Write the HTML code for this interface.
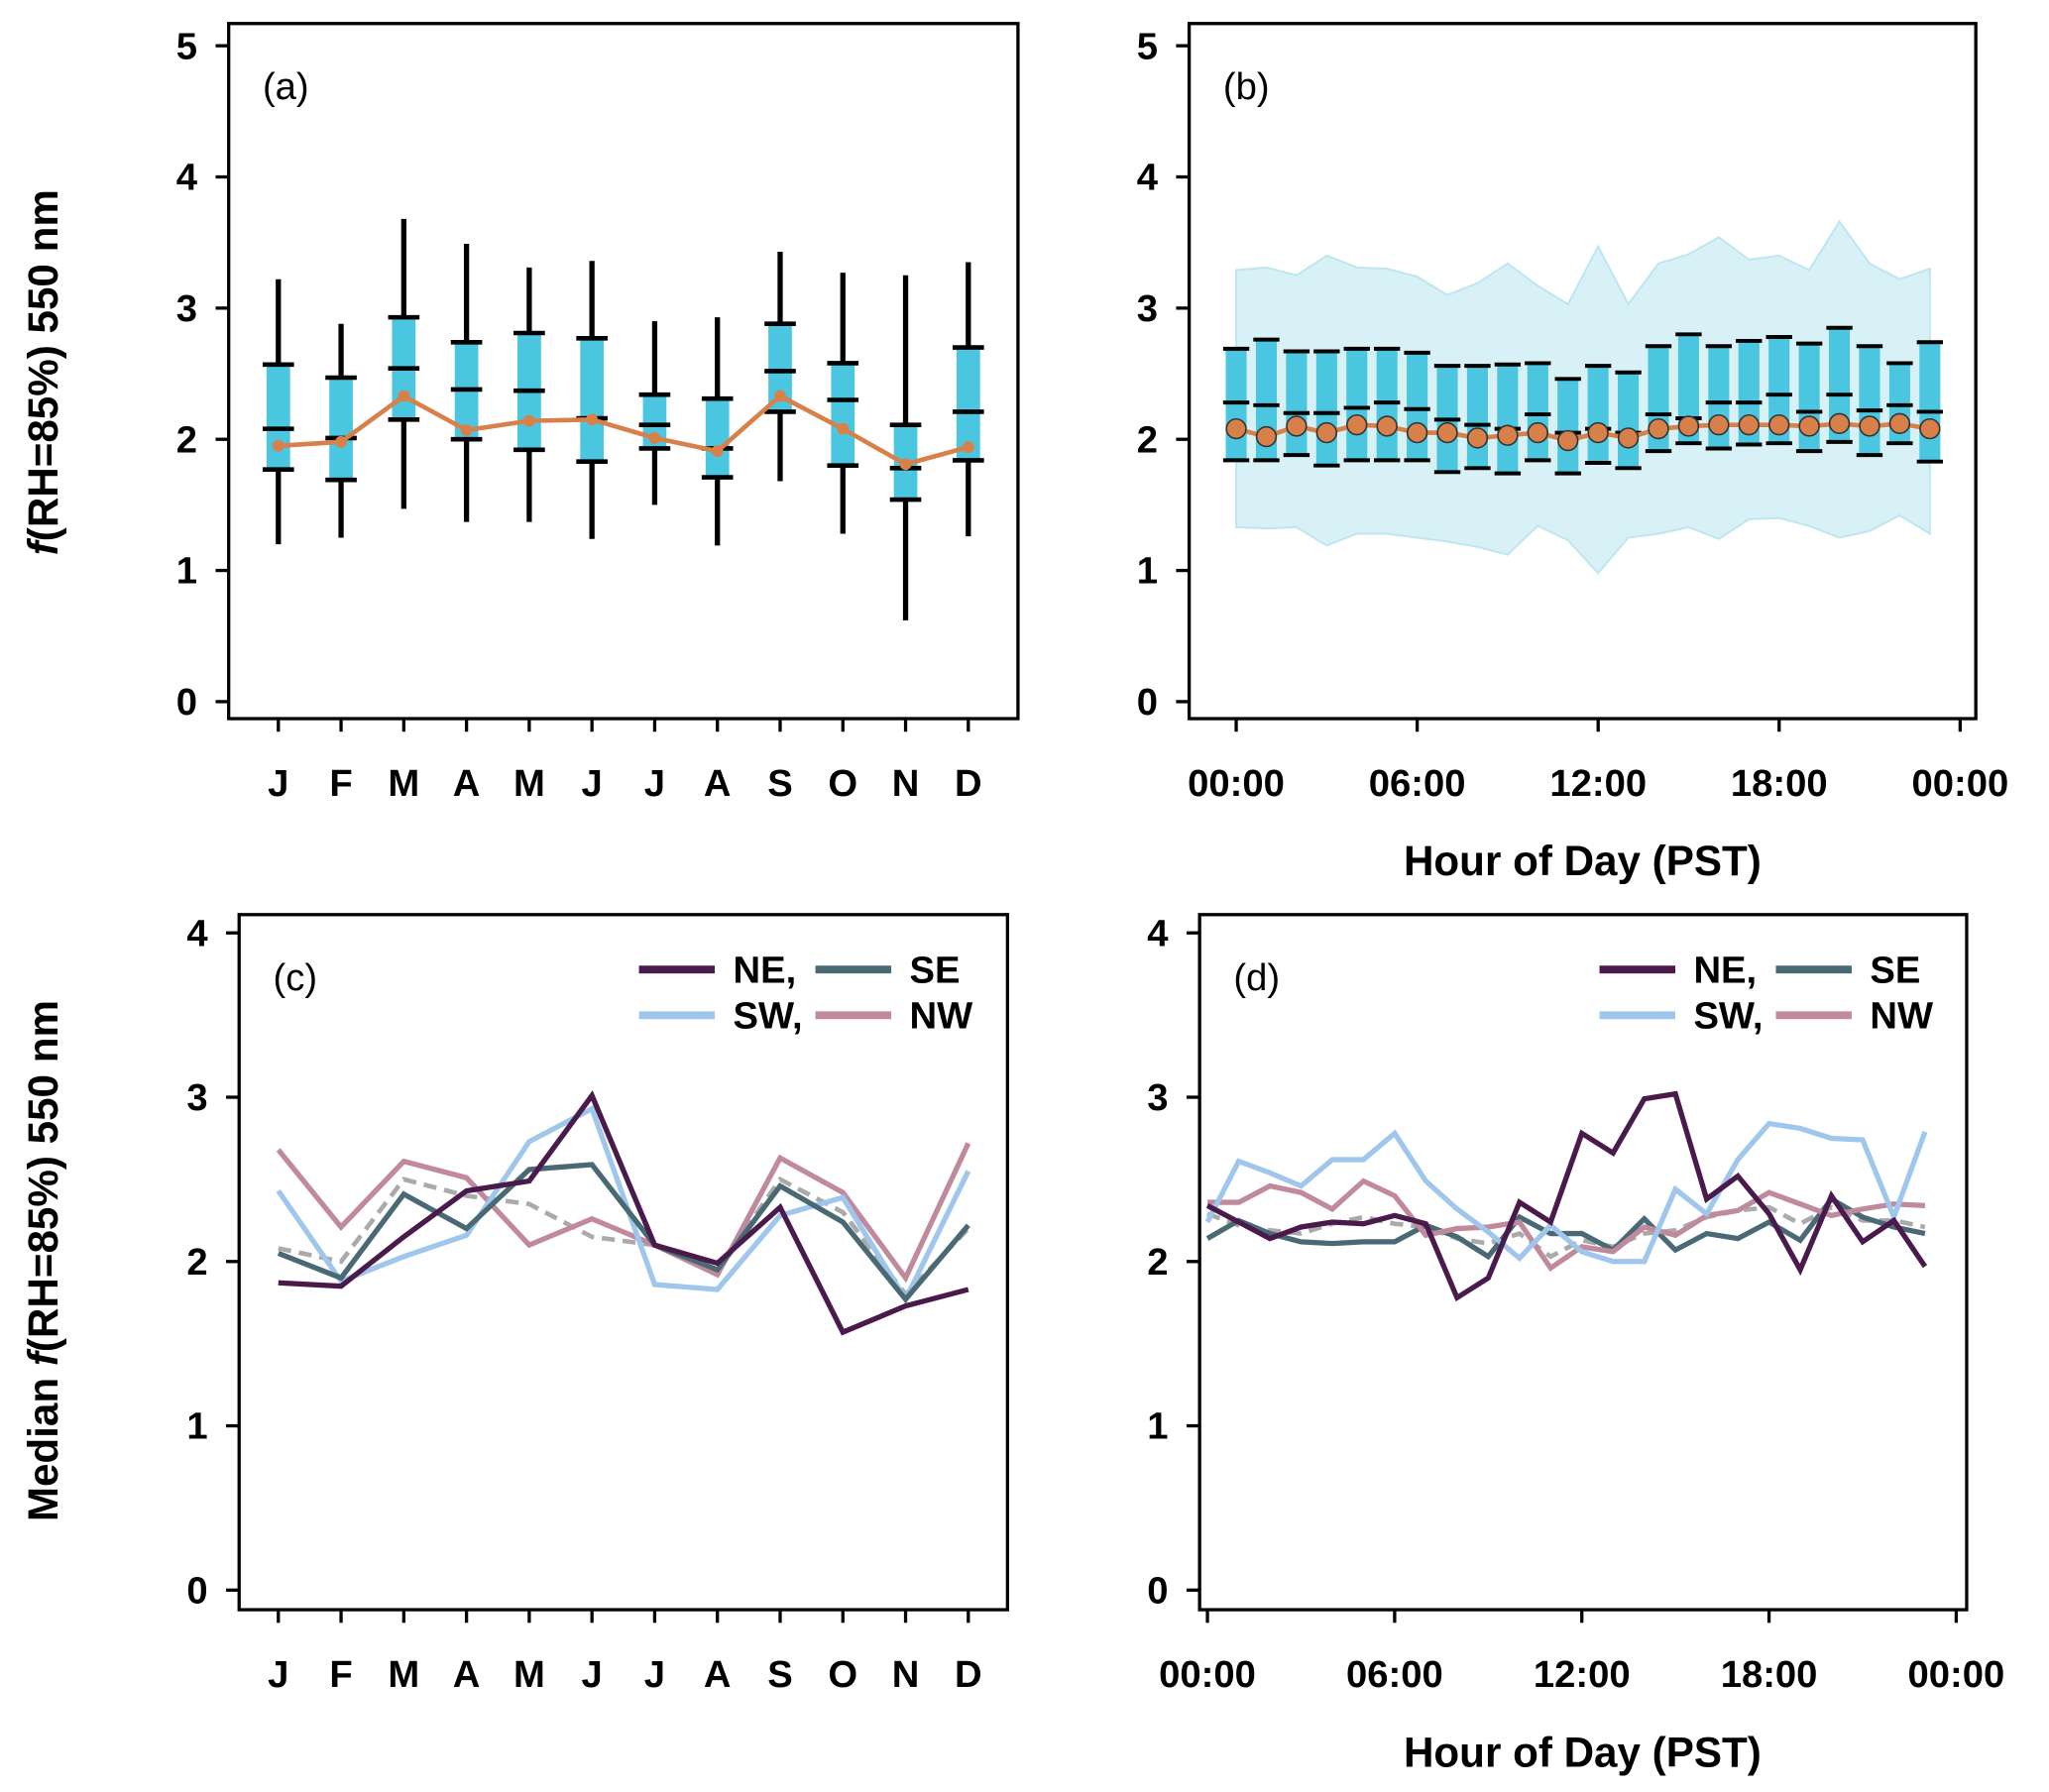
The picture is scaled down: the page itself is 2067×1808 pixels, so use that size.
<!DOCTYPE html>
<html><head><meta charset="utf-8"><style>
html,body{margin:0;padding:0;background:#fff}
svg{display:block}
text{font-family:"Liberation Sans",Arial,sans-serif}
</style></head><body>
<svg id="fig" width="2067" height="1808" viewBox="0 0 1568 1371.5" xmlns="http://www.w3.org/2000/svg">
<text transform="translate(44,285) rotate(-90)" text-anchor="middle" font-size="32" font-weight="bold"><tspan font-style="italic">f</tspan>(RH=85%) 550 nm</text>
<text transform="translate(44,965) rotate(-90)" text-anchor="middle" font-size="32" font-weight="bold">Median <tspan font-style="italic">f</tspan>(RH=85%) 550 nm</text>
<text x="1211" y="670" text-anchor="middle" font-size="32" font-weight="bold">Hour of Day (PST)</text>
<text x="1211" y="1352" text-anchor="middle" font-size="32" font-weight="bold">Hour of Day (PST)</text>
</svg>
<script>
const months=["J","F","M","A","M","J","J","A","S","O","N","D"];
const hourTicks=["00:00","06:00","12:00","18:00","00:00"];
// panel a
const aWhLo=[1.2,1.25,1.47,1.37,1.37,1.24,1.5,1.19,1.68,1.28,0.62,1.26];
const aWhHi=[3.22,2.88,3.68,3.49,3.31,3.36,2.9,2.93,3.43,3.27,3.25,3.35];
const aQ1=[1.77,1.69,2.15,2.0,1.92,1.83,1.93,1.71,2.21,1.8,1.54,1.84];
const aQ3=[2.57,2.47,2.93,2.74,2.81,2.77,2.34,2.31,2.88,2.58,2.11,2.7];
const aMed=[2.08,2.01,2.54,2.38,2.37,2.16,2.11,1.93,2.52,2.3,1.78,2.21];
const aMean=[1.95,1.98,2.33,2.07,2.14,2.15,2.01,1.91,2.33,2.08,1.81,1.94];
// panel b
const bQ3=[2.69,2.76,2.67,2.67,2.69,2.69,2.66,2.56,2.56,2.57,2.58,2.46,2.56,2.51,2.71,2.8,2.71,2.75,2.78,2.73,2.85,2.71,2.58,2.74];
const bMed=[2.28,2.26,2.2,2.2,2.24,2.28,2.23,2.15,2.11,2.08,2.19,2.05,2.08,2.05,2.19,2.16,2.28,2.28,2.34,2.21,2.34,2.22,2.26,2.21];
const bQ1=[1.84,1.84,1.88,1.8,1.84,1.84,1.84,1.75,1.78,1.74,1.84,1.74,1.82,1.78,1.91,1.97,1.93,1.96,1.97,1.91,1.98,1.88,1.97,1.83];
const bMean=[2.08,2.02,2.1,2.05,2.11,2.1,2.05,2.05,2.01,2.03,2.05,1.99,2.05,2.01,2.08,2.1,2.11,2.11,2.11,2.1,2.12,2.1,2.12,2.08];
const bBandHi=[3.29,3.31,3.25,3.4,3.31,3.3,3.24,3.1,3.19,3.34,3.17,3.03,3.47,3.03,3.34,3.41,3.54,3.37,3.4,3.29,3.66,3.34,3.22,3.3];
const bBandLo=[1.33,1.32,1.33,1.19,1.28,1.28,1.25,1.22,1.18,1.12,1.34,1.23,0.98,1.25,1.28,1.33,1.24,1.39,1.4,1.34,1.25,1.3,1.42,1.28];
// panel c
const cNE=[1.87,1.85,2.15,2.43,2.49,3.01,2.1,1.99,2.33,1.57,1.73,1.83];
const cSE=[2.05,1.9,2.41,2.2,2.56,2.59,2.1,1.95,2.46,2.24,1.77,2.22];
const cSW=[2.43,1.88,2.03,2.16,2.73,2.93,1.86,1.83,2.28,2.39,1.77,2.55];
const cNW=[2.68,2.21,2.61,2.51,2.1,2.26,2.1,1.92,2.63,2.42,1.9,2.72];
const cAll=[2.08,2.0,2.5,2.4,2.35,2.15,2.1,1.95,2.5,2.3,1.8,2.2];
// panel d
const dNE=[2.34,2.24,2.14,2.21,2.24,2.23,2.28,2.23,1.78,1.9,2.36,2.24,2.78,2.66,2.99,3.02,2.38,2.52,2.29,1.95,2.4,2.12,2.25,1.97];
const dSW=[2.24,2.61,2.54,2.46,2.62,2.62,2.78,2.49,2.32,2.18,2.02,2.22,2.06,2.0,2.0,2.44,2.29,2.62,2.84,2.81,2.75,2.74,2.27,2.79];
const dNW=[2.36,2.36,2.46,2.42,2.32,2.49,2.4,2.16,2.2,2.21,2.24,1.96,2.09,2.06,2.21,2.16,2.28,2.31,2.42,2.35,2.28,2.32,2.35,2.34];
const dSE=[2.14,2.25,2.17,2.12,2.11,2.12,2.12,2.22,2.15,2.03,2.27,2.17,2.17,2.07,2.26,2.07,2.17,2.14,2.24,2.13,2.38,2.27,2.21,2.17];
const dAll=[2.29,2.22,2.19,2.17,2.23,2.27,2.23,2.21,2.14,2.11,2.17,2.03,2.13,2.09,2.17,2.19,2.27,2.31,2.33,2.23,2.33,2.25,2.25,2.21];

const NS="http://www.w3.org/2000/svg";
const svg=document.getElementById('fig');
function mk(tag,attrs,parent){const e=document.createElementNS(NS,tag);for(const k in attrs)e.setAttribute(k,attrs[k]);(parent||svg).appendChild(e);return e;}
function txt(s,attrs,parent){const e=mk('text',attrs,parent);e.textContent=s;return e;}

function axes(g,box,yMax,y0,pxU,xLabels,xPos,tag){
  const yS=v=>y0-v*pxU;
  mk('rect',{x:box[0],y:box[1],width:box[2]-box[0],height:box[3]-box[1],fill:'none',stroke:'#000','stroke-width':2.5},g);
  for(let v=0;v<=yMax;v++){
    const t=mk('line',{x1:box[0]-10,x2:box[0],y1:yS(v),y2:yS(v),stroke:'#000','stroke-width':2.5},g);
    
    const l=txt(String(v),{x:box[0]-24,y:yS(v)+10,'text-anchor':'end','font-size':29,'font-weight':'bold'},g);
    
  }
  xLabels.forEach((s,i)=>{
    const x=xPos(i);
    const t=mk('line',{x1:x,x2:x,y1:box[3],y2:box[3]+10,stroke:'#000','stroke-width':2.5},g);
    
    const l=txt(s,{x:x,y:box[3]+59,'text-anchor':'middle','font-size':29,'font-weight':'bold'},g);
    
  });
  const p=txt('('+tag+')',{x:box[0]+26,y:box[1]+58,'font-size':29},g);
  
  return yS;
}
function poly(g,xs,vals,yS,attrs,name){
  const pts=vals.map((v,i)=>xs(i).toFixed(1)+','+yS(v).toFixed(1)).join(' ');
  const e=mk('polyline',Object.assign({points:pts,fill:'none','stroke-linejoin':'miter'},attrs),g);
  
  return e;
}

// Panel a
const gA=mk('g',{});
const xA=i=>213+i*48;
const yA=axes(gA,[175,18,779,550],5,537,100.4,months,xA,'a');
months.forEach((m,i)=>{
  const x=xA(i);
  const w=mk('line',{x1:x,x2:x,y1:yA(aWhLo[i]),y2:yA(aWhHi[i]),stroke:'#000','stroke-width':4},gA);
  
  const b=mk('rect',{x:x-9,y:yA(aQ3[i]),width:18,height:yA(aQ1[i])-yA(aQ3[i]),fill:'#4ac6e0'},gA);
  
  [aQ1[i],aMed[i],aQ3[i]].forEach(v=>{const c=mk('line',{x1:x-12,x2:x+12,y1:yA(v),y2:yA(v),stroke:'#000','stroke-width':3.5},gA);
    });
});
poly(gA,xA,aMean,yA,{stroke:'#d7804a','stroke-width':3.5},'mean-line-a');
aMean.forEach((v,i)=>{const c=mk('circle',{cx:xA(i),cy:yA(v),r:4.5,fill:'#d7804a'},gA);
  });

// Panel b
const gB=mk('g',{});
const xBt=i=>946+i*138.5;
const yB=axes(gB,[910,18,1512,550],5,537,100.4,hourTicks,xBt,'b');
const xB=h=>946+h*23.08;
{
  const up=bBandHi.map((v,i)=>xB(i)+','+yB(v));
  const lo=bBandLo.map((v,i)=>xB(i)+','+yB(v)).reverse();
  const band=mk('polygon',{points:up.concat(lo).join(' '),fill:'#d8f1f6',stroke:'#bde6ee','stroke-width':1.5},gB);
  
}
bMed.forEach((m,i)=>{
  const x=xB(i);
  const b=mk('rect',{x:x-8,y:yB(bQ3[i]),width:16,height:yB(bQ1[i])-yB(bQ3[i]),fill:'#4ac6e0'},gB);
  
  [bQ1[i],bMed[i],bQ3[i]].forEach(v=>{const c=mk('line',{x1:x-10,x2:x+10,y1:yB(v),y2:yB(v),stroke:'#000','stroke-width':3},gB);
    });
});
poly(gB,xB,bMean,yB,{stroke:'#d7804a','stroke-width':3.5},'mean-line-b');
bMean.forEach((v,i)=>{const c=mk('circle',{cx:xB(i),cy:yB(v),r:7.5,fill:'#d7804a',stroke:'#333','stroke-width':1.2},gB);
  });

// legend
function legend(g,x0,tag){
  const items=[['NE,','#4a1a4c',x0,752],['SE','#496a75',x0+135,752],['SW,','#9fc6ec',x0,787],['NW','#c08a9c',x0+135,787]];
  items.forEach(([s,c,x,y])=>{
    const l=mk('line',{x1:x,x2:x+58,y1:y-10,y2:y-10,stroke:c,'stroke-width':6},g);
    
    const t=txt(s,{x:x+72,y:y,'font-size':29,'font-weight':'bold'},g);
    
  });
}
// Panel c
const gC=mk('g',{});
const yC=axes(gC,[183,700,771,1232],4,1217,125.75,months,xA,'c');
poly(gC,xA,cAll,yC,{stroke:'#aaa','stroke-width':3.5,'stroke-dasharray':'10,6'},'overall-line-c');
poly(gC,xA,cNW,yC,{stroke:'#c08a9c','stroke-width':4},'nw-line-c');
poly(gC,xA,cSW,yC,{stroke:'#9fc6ec','stroke-width':4},'sw-line-c');
poly(gC,xA,cSE,yC,{stroke:'#496a75','stroke-width':4},'se-line-c');
poly(gC,xA,cNE,yC,{stroke:'#4a1a4c','stroke-width':4},'ne-line-c');
legend(gC,489,'c');

// Panel d
const gD=mk('g',{});
const xDt=i=>924+i*143.25;
const yD=axes(gD,[918,700,1505,1232],4,1217,125.75,hourTicks,xDt,'d');
const xD=h=>924+h*23.875;
poly(gD,xD,dAll,yD,{stroke:'#aaa','stroke-width':3.5,'stroke-dasharray':'10,6'},'overall-line-d');
poly(gD,xD,dSE,yD,{stroke:'#496a75','stroke-width':4},'se-line-d');
poly(gD,xD,dNW,yD,{stroke:'#c08a9c','stroke-width':4},'nw-line-d');
poly(gD,xD,dSW,yD,{stroke:'#9fc6ec','stroke-width':4},'sw-line-d');
poly(gD,xD,dNE,yD,{stroke:'#4a1a4c','stroke-width':4},'ne-line-d');
legend(gD,1224,'d');
</script>
</body></html>
